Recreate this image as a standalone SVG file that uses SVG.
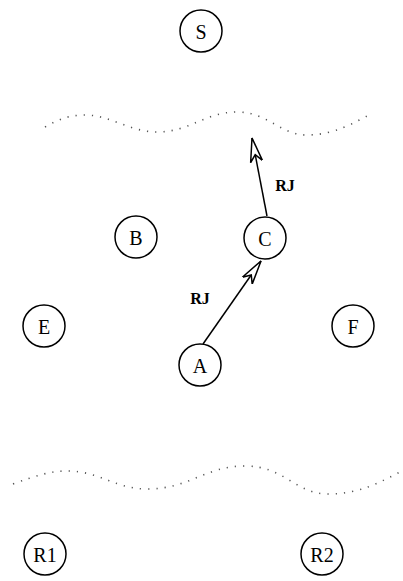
<svg xmlns="http://www.w3.org/2000/svg" width="403" height="581" viewBox="0 0 403 581">
<style>
.n circle{fill:#fff;stroke:#000;stroke-width:1.5}
.n text{font-family:"Liberation Serif","Times New Roman",serif;font-size:20px;text-anchor:middle;dominant-baseline:central;fill:#000}
.lbl{font-family:"Liberation Serif","Times New Roman",serif;font-size:16px;font-weight:bold;text-anchor:middle;dominant-baseline:central}
.edge{stroke:#000;stroke-width:1.5;fill:none;marker-end:url(#ah)}
.wave{fill:none;stroke:#555;stroke-width:1.6;stroke-dasharray:1.2 7}
</style>
<defs>
<marker id="ah" markerUnits="userSpaceOnUse" markerWidth="30" markerHeight="16" refX="24" refY="8" orient="auto">
<path d="M24,8 L0,2 L7,8 L0,14 Z" fill="#fff" stroke="#000" stroke-width="1.5" stroke-linejoin="miter"/>
</marker>
</defs>
<g id="waves">
<path class="wave" d="M45,127 C60,118 72,115 85,115 C110,115 130,132 157,132 C190,132 205,112 237,112 C268,112 280,135 307,135 C335,135 355,122 369,115"/>
<path class="wave" d="M13,484 C35,476 50,471 67,471 C100,471 115,489 147,489 C190,489 205,466 245,466 C285,466 295,494 328,494 C360,494 380,482 400,472"/>
</g>
<g id="connectors">
<line class="edge" x1="203" y1="344" x2="261" y2="261"/>
<line class="edge" x1="267" y1="216" x2="252" y2="138"/>
<text class="lbl" x="200" y="298">RJ</text>
<text class="lbl" x="285" y="185">RJ</text>
</g>
<g id="S" class="n"><circle cx="201" cy="31" r="21"/><text x="201" y="32">S</text></g>
<g id="B" class="n"><circle cx="136" cy="237" r="21"/><text x="136" y="238">B</text></g>
<g id="C" class="n"><circle cx="265" cy="238" r="21"/><text x="265" y="239">C</text></g>
<g id="E" class="n"><circle cx="44" cy="326" r="21"/><text x="44" y="327">E</text></g>
<g id="F" class="n"><circle cx="353" cy="326" r="21"/><text x="353" y="327">F</text></g>
<g id="A" class="n"><circle cx="200" cy="365" r="21"/><text x="200" y="366">A</text></g>
<g id="R1" class="n"><circle cx="45" cy="554" r="21"/><text x="45" y="555">R1</text></g>
<g id="R2" class="n"><circle cx="322" cy="554" r="21"/><text x="322" y="555">R2</text></g>
</svg>
